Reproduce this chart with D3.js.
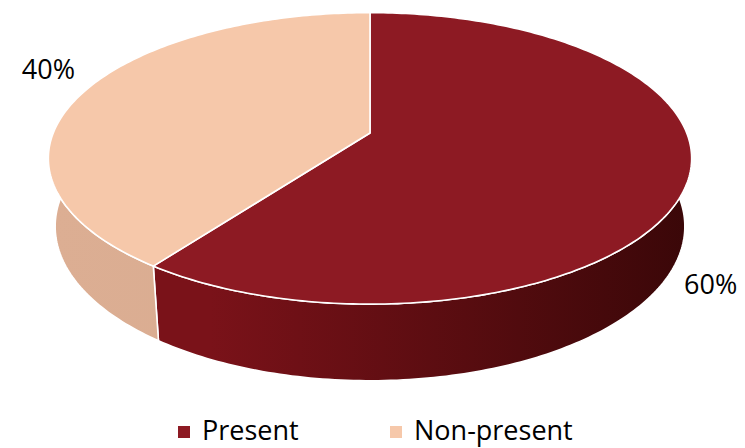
<!DOCTYPE html>
<html>
<head>
<meta charset="utf-8">
<script src="https://cdn.jsdelivr.net/npm/d3@7/dist/d3.min.js"></script>
<style>
  html, body { margin: 0; padding: 0; background: #ffffff; }
  svg { display: block; }
  text { font-family: "Open Sans", "Noto Sans", sans-serif; }
</style>
</head>
<body>
<svg id="chart" width="745" height="448"></svg>
<script>
// Share of respondents
const categories = ["Present", "Non-present"];
const values = [60, 40];
const valueLabels = ["60%", "40%"];

// Colours: top face, wall (light end), wall (dark end)
const topColors = ["#8d1a23", "#f6c8aa"];
const wallLight = ["#7a1219", "#dcae93"];
const wallDark = ["#3a0708", "#d4a98d"];

const W = 745, H = 448;
const svg = d3.select("#chart");

// 3D projection of a tilted disc (perspective view)
const cx = 370, cy = 133;          // projected centre of the top face
const tilt = 26.5 * Math.PI / 180; // camera elevation
const sA = Math.sin(tilt), cA = Math.cos(tilt);
const dist0 = 5.14, focal = 1628;
const depth = 0.2416;              // disc thickness (in radius units)

function project(theta, r, y) {
  const X = r * Math.sin(theta);
  const Z = -r * Math.cos(theta);
  const u = y * cA - Z * sA;
  const d = dist0 - Z * cA - y * sA;
  return [cx + focal * X / d, cy - focal * u / d];
}

function arcPoints(a0, a1, y, n) {
  const pts = [];
  for (let i = 0; i <= n; i++) {
    const t = a0 + (a1 - a0) * i / n;
    pts.push(project(t, 1, y));
  }
  return pts;
}

const pie = d3.pie().sort(null).value(d => d).startAngle(0).endAngle(2 * Math.PI);
const arcs = pie(values);
const line = d3.line();

// gradients for the side walls
const defs = svg.append("defs");
arcs.forEach((a, i) => {
  const g = defs.append("linearGradient")
    .attr("id", "wall" + i)
    .attr("gradientUnits", "userSpaceOnUse")
    .attr("x1", 50).attr("y1", 0).attr("x2", 690).attr("y2", 0);
  g.append("stop").attr("offset", "0%").attr("stop-color", wallLight[i]);
  g.append("stop").attr("offset", i === 0 ? "25%" : "0%").attr("stop-color", wallLight[i]);
  g.append("stop").attr("offset", "100%").attr("stop-color", wallDark[i]);
});

const walls = svg.append("g");
const tops = svg.append("g");

arcs.forEach((a, i) => {
  const n = Math.max(8, Math.round((a.endAngle - a.startAngle) * 60));
  const topArc = arcPoints(a.startAngle, a.endAngle, 0, n);
  const botArc = arcPoints(a.endAngle, a.startAngle, -depth, n);
  walls.append("path")
    .attr("d", line(topArc.concat(botArc)) + "Z")
    .attr("fill", `url(#wall${i})`)
    .attr("stroke", "#ffffff")
    .attr("stroke-width", 1.6)
    .attr("stroke-linejoin", "round");

  tops.append("path")
    .attr("d", line([[cx, cy]].concat(topArc)) + "Z")
    .attr("fill", topColors[i])
    .attr("stroke", "#ffffff")
    .attr("stroke-width", 1.6)
    .attr("stroke-linejoin", "round");
});

// data labels
const labelPos = [
  { anchor: "start", x: 684, y: 294 },
  { anchor: "end", x: 75, y: 79 }
];
svg.append("g").selectAll("text")
  .data(arcs)
  .join("text")
  .attr("x", (d, i) => labelPos[i].x)
  .attr("y", (d, i) => labelPos[i].y)
  .attr("text-anchor", (d, i) => labelPos[i].anchor)
  .attr("font-size", 27)
  .attr("fill", "#000")
  .text((d, i) => valueLabels[i]);

// legend
const legendX = [178, 390];
const legend = svg.append("g").selectAll("g")
  .data(categories)
  .join("g")
  .attr("transform", (d, i) => `translate(${legendX[i]},426)`);
legend.append("rect")
  .attr("width", 12).attr("height", 12)
  .attr("fill", (d, i) => topColors[i]);
legend.append("text")
  .attr("x", 24).attr("y", 13.5)
  .attr("font-size", 27)
  .attr("fill", "#000")
  .text(d => d);
</script>
</body>
</html>
